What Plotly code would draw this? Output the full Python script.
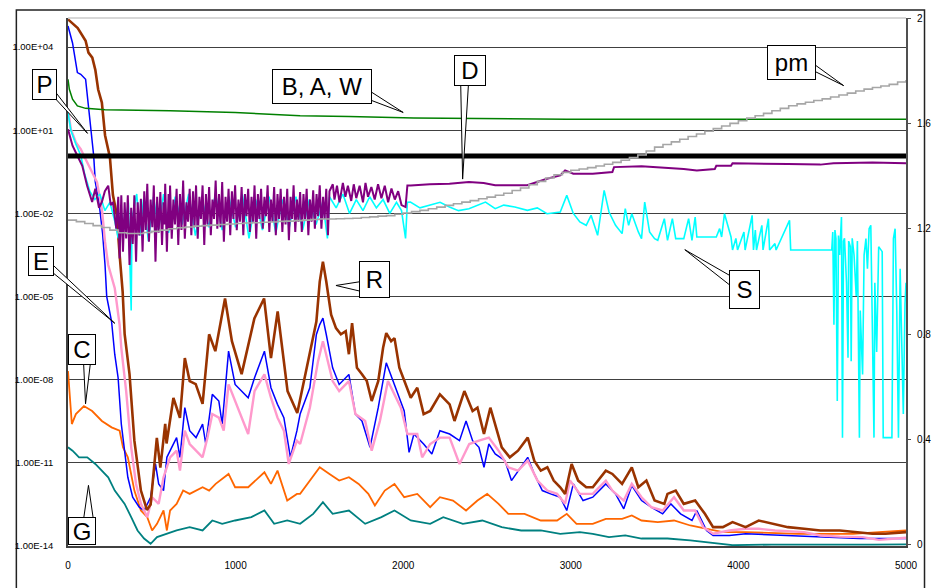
import numpy as np
import plotly.graph_objects as go

# ---------------- data (x, log10 value) ----------------
R_pts = [(0,5.0),(27,4.85),(58,4.69),(105,4.23),(122,3.80),(145,3.62),(163,3.18),(180,2.47),(202,2.0),(221,0.82),
 (250,0.03),(268,-1.34),(291,-2.05),(308,-3.49),(326,-4.82),(338,-6.36),(367,-7.80),(396,-10.2),(435,-12.0),(471,-12.7),
 (493,-12.5),(530,-10.1),(551,-11.17),(580,-9.59),(588,-10.3),(629,-8.66),(668,-9.38),(697,-7.22),(726,-8.05),(762,-8.16),
 (803,-8.87),(842,-6.36),(879,-6.97),(937,-5.07),(978,-6.61),(1036,-7.80),(1112,-5.79),(1170,-5.07),(1211,-7.22),(1251,-5.54),
 (1310,-8.41),(1368,-9.2),(1424,-7.57),(1453,-6.85),(1482,-5.90),(1502,-4.46),(1521,-3.74),(1541,-4.46),(1570,-5.65),(1599,-6.14),
 (1628,-6.36),(1657,-6.25),(1676,-7.08),(1695,-5.96),(1724,-7.57),(1754,-7.80),(1783,-8.05),(1812,-8.77),(1851,-8.05),(1880,-6.85),
 (1899,-6.32),(1928,-6.61),(1948,-6.50),(1977,-7.57),(2006,-8.05),(2045,-8.65),(2084,-8.29),(2122,-9.24),(2161,-9.13),(2219,-8.53),
 (2277,-8.89),(2306,-9.49),(2365,-8.41),(2414,-9.13),(2443,-9.01),(2482,-9.96),(2520,-9.01),(2549,-9.60),(2588,-10.44),(2636,-10.80),
 (2685,-10.56),(2743,-10.09),(2782,-10.92),(2821,-11.28),(2860,-11.16),(2898,-11.64),(2937,-11.88),(2966,-12.12),(3005,-11.04),(3044,-11.64),
 (3092,-11.88),(3131,-11.88),(3209,-11.28),(3248,-11.40),(3306,-11.76),(3364,-11.16),(3403,-11.88),(3451,-11.64),(3500,-12.36),(3558,-12.48),
 (3577,-12.12),(3626,-12.0),(3674,-12.48),(3742,-12.36),(3800,-12.84),(3849,-13.32),(3907,-13.32),(3965,-13.14),(4043,-13.32),(4121,-13.08),
 (4218,-13.20),(4295,-13.32),(4392,-13.38),(4489,-13.44),(4605,-13.44),(4722,-13.5),(4800,-13.56),(4877,-13.56),(5000,-13.5)]

E_pts = [(0,4.76),(27,4.15),(56,3.08),(76,3.02),(105,2.84),(115,2.24),(124,1.64),(134,1.04),(153,0.10),(163,-0.87),
 (185,-1.6),(206,-2.7),(221,-3.86),(231,-5.0),(260,-5.9),(279,-7.09),(299,-7.93),(318,-9.60),(357,-11.52),(386,-12.24),
 (425,-12.60),(454,-12.72),(493,-12.24),(522,-11.04),(541,-11.76),(570,-12.0),(590,-10.80),(619,-10.44),(648,-10.09),(668,-10.80),
 (697,-9.01),(726,-9.84),(764,-10.09),(803,-9.60),(822,-10.32),(861,-8.53),(900,-8.77),(920,-9.60),(958,-6.97),(997,-8.17),
 (1036,-8.41),(1075,-8.65),(1113,-7.93),(1172,-6.97),(1211,-8.29),(1250,-8.89),(1288,-9.37),(1327,-10.80),(1366,-9.84),(1385,-9.24),
 (1443,-8.29),(1482,-6.37),(1502,-6.01),(1521,-5.78),(1541,-6.37),(1579,-7.57),(1618,-8.17),(1676,-7.81),(1715,-9.24),(1754,-9.49),
 (1802,-10.44),(1851,-9.01),(1899,-7.39),(1938,-8.05),(1967,-8.53),(2006,-9.13),(2035,-10.62),(2064,-9.96),(2122,-10.32),(2171,-10.68),
 (2219,-9.84),(2277,-9.96),(2336,-10.20),(2375,-9.49),(2414,-10.20),(2452,-10.44),(2482,-11.16),(2511,-10.32),(2549,-10.68),(2607,-10.92),
 (2646,-11.64),(2704,-11.16),(2743,-10.80),(2782,-11.40),(2830,-12.0),(2879,-12.12),(2937,-12.24),(2976,-12.72),(3015,-11.76),(3073,-12.36),
 (3131,-12.24),(3209,-11.76),(3267,-12.12),(3316,-12.66),(3364,-11.82),(3422,-12.36),(3480,-12.60),(3548,-12.84),(3597,-12.48),(3655,-12.84),
 (3723,-13.08),(3752,-12.72),(3810,-13.44),(3849,-13.62),(3946,-13.62),(4043,-13.56),(4121,-13.58),(4256,-13.62),(4373,-13.66),(4489,-13.68),
 (4605,-13.7),(4722,-13.73),(4838,-13.73),(5000,-13.73)]

P_pts = [(0,1.76),(17,1.04),(47,0.56),(76,0.32),(95,0.08),(115,-0.16),(144,-0.52),(173,-0.87),(202,-1.83),(221,-3.03),
 (240,-3.86),(279,-4.7),(308,-6.02),(318,-6.85),(347,-8.41),(377,-10.44),(406,-11.76),(435,-12.48),(473,-12.96),(502,-12.24),
 (541,-12.48),(570,-11.52),(609,-10.80),(648,-10.56),(668,-11.28),(697,-9.84),(726,-10.32),(764,-10.56),(803,-10.80),(832,-10.09),
 (861,-9.24),(900,-9.37),(929,-9.84),(958,-8.17),(997,-8.77),(1036,-9.37),(1075,-9.96),(1113,-8.41),(1172,-7.81),(1211,-8.65),
 (1250,-9.37),(1288,-9.84),(1317,-11.04),(1366,-10.20),(1385,-10.32),(1443,-9.01),(1492,-7.33),(1521,-6.61),(1551,-7.33),(1579,-8.05),
 (1618,-8.41),(1676,-8.05),(1715,-9.24),(1773,-9.49),(1812,-10.56),(1861,-9.49),(1909,-8.05),(1948,-8.53),(1986,-9.01),(2025,-9.96),
 (2084,-9.96),(2113,-10.80),(2161,-10.32),(2219,-10.09),(2277,-10.09),(2336,-11.04),(2394,-10.32),(2452,-10.20),(2511,-10.09),(2569,-10.56),
 (2627,-11.16),(2685,-11.28),(2743,-10.92),(2801,-11.64),(2860,-12.0),(2918,-12.12),(2966,-12.48),(2995,-11.64),(3054,-12.12),(3131,-12.12),
 (3209,-11.64),(3248,-12.0),(3316,-12.36),(3364,-11.76),(3422,-12.24),(3480,-12.60),(3548,-12.72),(3616,-12.24),(3674,-12.72),(3742,-12.72),
 (3791,-13.32),(3849,-13.56),(3946,-13.44),(4043,-13.38),(4121,-13.38),(4218,-13.44),(4392,-13.50),(4489,-13.62),(4605,-13.66),(4741,-13.68),
 (4838,-13.78),(5000,-13.7)]

C_pts = [(0,-7.69),(8,-8.41),(23,-9.6),(47,-9.24),(95,-8.95),(144,-9.13),(202,-9.49),(260,-9.72),(308,-9.84),(328,-10.44),
 (357,-10.80),(396,-12.0),(435,-12.72),(473,-12.96),(502,-13.44),(531,-13.2),(570,-12.72),(590,-13.44),(609,-12.72),(648,-12.48),
 (687,-12.0),(726,-12.12),(803,-11.88),(842,-12.0),(881,-11.76),(958,-11.40),(997,-11.88),(1075,-11.88),(1172,-11.34),(1211,-11.76),
 (1250,-11.28),(1308,-12.36),(1366,-12.12),(1385,-12.12),(1443,-11.64),(1502,-11.16),(1560,-11.40),(1618,-11.64),(1676,-11.52),(1734,-11.76),
 (1792,-12.12),(1831,-12.54),(1890,-12.0),(1948,-11.76),(2006,-12.24),(2084,-12.12),(2161,-12.60),(2219,-12.24),(2297,-12.36),(2375,-12.72),
 (2443,-12.36),(2501,-12.12),(2569,-12.48),(2627,-12.84),(2724,-12.84),(2821,-13.08),(2918,-13.08),(2976,-12.84),(3034,-13.20),(3131,-13.20),
 (3209,-13.02),(3306,-13.02),(3364,-12.90),(3422,-13.08),(3519,-13.14),(3616,-13.08),(3713,-13.26),(3810,-13.38),(3907,-13.50),(4043,-13.50),
 (4198,-13.54),(4354,-13.56),(4528,-13.56),(4683,-13.56),(4838,-13.50),(5000,-13.44)]

G_pts = [(0,-10.44),(27,-10.56),(66,-10.80),(115,-10.80),(163,-11.04),(202,-11.28),(240,-11.52),(279,-12.0),(338,-12.48),(377,-12.96),
 (415,-13.44),(454,-13.73),(493,-13.92),(531,-13.68),(590,-13.56),(648,-13.44),(726,-13.32),(803,-13.44),(861,-13.08),(920,-13.20),
 (997,-13.08),(1094,-12.96),(1172,-12.72),(1230,-13.20),(1308,-13.08),(1385,-13.2),(1463,-12.84),(1521,-12.42),(1579,-12.84),(1676,-12.72),
 (1773,-13.20),(1870,-12.96),(1948,-12.72),(2045,-13.08),(2161,-13.20),(2239,-12.96),(2356,-13.20),(2472,-13.08),(2588,-13.32),(2704,-13.44),
 (2821,-13.44),(2937,-13.56),(3054,-13.50),(3131,-13.56),(3228,-13.68),(3325,-13.62),(3422,-13.73),(3577,-13.73),(3713,-13.80),(3868,-13.92),
 (3965,-13.97),(4200,-13.95),(4500,-13.96),(4800,-13.95),(5000,-13.94)]

D_pts = [(0,1.04),(27,0.44),(56,0.08),(85,-0.28),(114,-1.0),(144,-1.59),(163,-1.11),(185,-1.8),(202,-1.59),(220,-1.2),
 (240,-1.0),(255,-1.7),(268,-1.59),(288,-2.55),(300,-1.4),(308,-3.63),(318,-1.35),
 (328,-3.38),(338,-1.6),(347,-2.9),(357,-1.35),(367,-3.86),(377,-1.8),(386,-3.1),(396,-1.35),(406,-3.74),(416,-1.6),
 (425,-2.8),(435,-1.47),(445,-3.38),(455,-1.2),(464,-2.6),(473,-0.93),(483,-3.02),(493,-1.5),(503,-2.5),(512,-0.99),
 (522,-3.74),(532,-1.4),(541,-2.7),(551,-1.23),(561,-3.14),(570,-1.6),(575,-2.4),(580,-0.93),(590,-3.38),(600,-1.3),
 (605,-2.6),(609,-0.99),(619,-2.91),(629,-1.5),(638,-2.4),(648,-1.11),(658,-3.14),(668,-1.3),(677,-2.6),(687,-0.81),
 (697,-2.91),(707,-1.6),(716,-2.3),(726,-1.11),(736,-2.79),(746,-1.2),(755,-2.5),(764,-0.99),(774,-2.91),(784,-1.4),
 (793,-2.2),(803,-0.99),(813,-3.14),(823,-1.3),(832,-2.4),(842,-1.05),(852,-2.79),(862,-1.5),(871,-2.2),(881,-0.81),
 (891,-2.55),(901,-1.3),(910,-2.5),(920,-0.87),(930,-3.02),(940,-1.4),(949,-2.3),(958,-1.11),(968,-2.79),(978,-1.2),
 (987,-2.2),(997,-0.99),(1007,-2.61),(1017,-1.5),(1026,-2.3),(1036,-1.05),(1046,-2.79),(1056,-1.3),(1065,-2.1),(1075,-1.11),
 (1085,-2.67),(1095,-1.4),(1104,-2.3),(1113,-0.99),(1123,-2.91),(1133,-1.3),(1142,-2.2),(1152,-1.11),(1162,-2.55),(1172,-1.4),
 (1181,-2.1),(1191,-0.99),(1201,-2.67),(1211,-1.5),(1220,-2.3),(1230,-1.05),(1240,-2.79),(1250,-1.3),(1259,-2.2),(1269,-1.11),
 (1279,-2.67),(1289,-1.4),(1298,-2.4),(1308,-1.11),(1318,-2.97),(1328,-1.4),(1337,-2.2),(1346,-0.99),(1356,-2.67),(1366,-1.5),
 (1375,-2.3),(1385,-1.23),(1395,-2.67),(1405,-1.3),(1414,-2.2),(1424,-1.11),(1434,-2.79),(1444,-1.5),(1453,-2.3),(1463,-1.17),
 (1473,-2.55),(1483,-1.3),(1492,-2.1),(1502,-0.99),(1512,-2.55),(1522,-1.4),(1531,-2.2),(1541,-1.11),(1551,-2.79),(1560,-1.2),
 (1580,-0.95),(1590,-1.5),(1605,-1.0),(1620,-1.6),(1640,-0.9),(1655,-1.4),(1670,-1.0),(1690,-1.55),(1705,-0.95),(1720,-1.45),
 (1740,-1.0),(1760,-1.6),(1775,-0.9),(1790,-1.4),(1810,-1.05),(1830,-1.5),(1850,-0.95),(1870,-1.45),(1890,-1.0),(1910,-1.6),
 (1930,-1.1),(1950,-1.5),(1970,-1.2),(1990,-1.7),(2014,-1.77),(2025,-0.99),(2045,-0.99),(2159,-0.95),(2276,-0.93),(2392,-0.87),
 (2480,-0.9),(2549,-0.98),(2666,-0.98),(2740,-0.98),(2858,-0.75),(2937,-0.63),(2966,-0.45),(3015,-0.57),(3131,-0.57),(3248,-0.51),
 (3258,-0.33),(3422,-0.30),(3674,-0.40),(3752,-0.45),(3859,-0.40),(3868,-0.28),(3956,-0.28),(3965,-0.19),(4295,-0.22),(4489,-0.24),
 (4567,-0.19),(4800,-0.16),(5000,-0.19)]

S_pts = [(0,1.64),(17,1.0),(47,0.5),(76,0.1),(100,-0.6),(130,-1.2),(160,-1.5),(190,-1.3),(220,-1.9),(250,-1.6),
 (280,-2.3),(300,-2.9),(320,-2.0),(340,-2.6),(360,-1.6),(372,-4.5),(377,-5.5),(382,-2.2),(410,-1.3),(430,-2.8),
 (450,-1.5),(480,-3.0),(510,-1.4),(540,-2.6),(570,-1.3),(600,-2.7),(640,-1.4),(680,-2.4),(720,-1.3),(760,-2.8),
 (800,-1.5),(840,-2.5),(880,-1.3),(920,-2.6),(960,-1.4),(1000,-2.5),(1040,-1.3),(1080,-2.9),(1120,-1.5),(1160,-2.6),
 (1200,-1.4),(1240,-2.7),(1280,-1.5),(1320,-2.5),(1360,-1.4),(1400,-2.6),(1440,-1.5),(1480,-2.4),(1520,-1.6),(1548,-2.9),
 (1560,-1.4),(1600,-1.8),(1640,-1.3),(1680,-2.0),(1720,-1.5),(1760,-1.9),(1800,-1.4),(1840,-1.8),(1880,-1.5),(1920,-2.0),
 (1960,-1.6),(1990,-1.9),(2014,-2.9),(2025,-1.6),(2043,-1.59),(2100,-1.8),(2159,-1.71),(2220,-1.6),(2276,-1.77),(2330,-1.9),
 (2392,-1.83),(2491,-1.59),(2549,-1.83),(2600,-1.7),(2666,-1.77),(2741,-1.89),(2800,-1.8),(2858,-2.01),(2937,-1.95),(2976,-1.35),
 (3015,-2.0),(3054,-2.31),(3092,-2.43),(3121,-2.07),(3160,-2.79),(3199,-1.17),(3228,-1.95),(3267,-2.43),(3306,-2.73),(3325,-1.83),
 (3345,-2.43),(3364,-2.01),(3403,-2.67),(3422,-2.91),(3441,-1.59),(3470,-2.67),(3500,-2.91),(3519,-2.97),(3558,-2.19),(3577,-2.97),
 (3606,-2.19),(3626,-2.91),(3674,-2.91),(3703,-2.19),(3723,-2.97),(3742,-2.13),(3752,-2.85),(3868,-2.85),(3888,-2.55),(3900,-2.85),
 (3917,-2.01),(3956,-2.85),(3965,-3.32),(3985,-2.9),(3995,-3.32),(4033,-2.67),(4040,-3.32),(4082,-2.07),(4090,-3.32),(4101,-2.6),
 (4108,-3.32),(4140,-2.43),(4147,-3.32),(4179,-2.19),(4186,-3.32),(4218,-3.09),(4225,-3.32),(4305,-2.25),(4312,-3.32),(4557,-3.32),
 (4563,-2.67),(4570,-6.02),(4576,-2.6),(4582,-2.91),(4590,-8.77),(4597,-2.8),(4604,-3.5),(4615,-2.13),(4621,-10.09),(4627,-3.0),
 (4633,-2.9),(4645,-4.5),(4654,-7.21),(4658,-3.0),(4668,-3.2),(4673,-7.33),(4679,-2.9),(4690,-3.5),(4703,-4.98),(4710,-3.0),
 (4722,-10.09),(4727,-5.5),(4741,-7.81),(4750,-3.5),(4761,-2.91),(4770,-4.0),(4780,-2.55),(4790,-2.43),(4799,-6.0),(4809,-10.09),
 (4814,-4.5),(4825,-7.0),(4837,-3.2),(4858,-3.38),(4864,-10.09),(4916,-10.09),(4925,-2.91),(4935,-2.55),(4945,-5.5),(4955,-10.09),
 (4965,-4.0),(4984,-9.24),(4994,-5.27),(5000,-4.5)]

# B, A, W (left axis, log10 values)
W_pts = [(0,2.84),(8,2.48),(27,2.12),(56,1.88),(105,1.79),(221,1.74),(609,1.70),(997,1.64),(1385,1.52),(1676,1.50),
 (2064,1.44),(2549,1.43),(2976,1.40),(5000,1.40)]

# pm (right axis, linear), stepped
pm_x = list(range(0, 5001, 50))
pm_y = [1.233,1.227,1.220,1.212,1.205,1.195,1.185,1.182,1.182,1.186,1.190,1.195,1.200,1.204,1.207,1.210,1.212,1.214,
        1.216,1.218,1.220,1.222,1.223,1.225,1.226,1.228,1.229,1.231,1.233,1.235,1.237,1.237,1.238,1.239,1.240,1.243,
        1.245,1.248,1.250,1.255,1.260,1.265,1.270,1.276,1.282,1.289,1.295,1.301,1.307,1.314,1.320,1.327,1.335,1.345,
        1.355,1.367,1.380,1.393,1.405,1.414,1.422,1.427,1.432,1.438,1.445,1.452,1.460,1.470,1.480,1.495,1.510,1.520,
        1.530,1.540,1.550,1.560,1.570,1.580,1.590,1.600,1.610,1.620,1.629,1.638,1.648,1.657,1.667,1.674,1.680,1.687,
        1.693,1.700,1.708,1.715,1.723,1.730,1.736,1.742,1.748,1.757,1.765]

# thick black reference line (left axis)
K_x = [0, 5000]
K_y = [1.17, 1.17]

left_tickvals = [1e-14, 1e-11, 1e-8, 1e-5, 1e-2, 1e1, 1e4]
left_ticktext = ["1.00E-14", "1.00E-11", "1.00E-08", "1.00E-05", "1.00E-02", "1.00E+01", "1.00E+04"]
right_tickvals = [0, 0.4, 0.8, 1.2, 1.6, 2]
right_ticktext = ["0", "0.4", "0.8", "1.2", "1.6", "2"]
x_tickvals = [0, 1000, 2000, 3000, 4000, 5000]


def split(pts):
    xs = [p[0] for p in pts]
    ys = [10.0 ** p[1] for p in pts]
    return xs, ys


fig = go.Figure()


def add(pts, color, width):
    xs, ys = split(pts)
    fig.add_trace(go.Scatter(x=xs, y=ys, mode="lines", line=dict(color=color, width=width),
                             showlegend=False, hoverinfo="skip"))


add(G_pts, "#008080", 1.8)
add(C_pts, "#ff6600", 1.8)
add(E_pts, "#0000ff", 1.5)
add(P_pts, "#ff99cc", 2.4)
add(R_pts, "#993300", 2.6)
add(S_pts, "#00ffff", 1.6)
add(D_pts, "#800080", 2.0)
fig.add_trace(go.Scatter(x=pm_x, y=pm_y, mode="lines", yaxis="y2", line=dict(color="#a6a6a6", width=1.6, shape="hv"),
                         showlegend=False, hoverinfo="skip"))
add(W_pts, "#008000", 1.5)
fig.add_trace(go.Scatter(x=K_x, y=K_y, mode="lines", line=dict(color="#000000", width=5),
                         showlegend=False, hoverinfo="skip"))

L, R, T, B = 62, 922, 15, 546
W, H = 943, 588


def pp(px, py):
    return (px - L) / (R - L), (B - py) / (B - T)


shapes = []
# top border of plot area (light gray)
shapes.append(dict(type="line", xref="paper", yref="paper", x0=0, x1=1, y0=1, y1=1,
                   line=dict(color="#b0b0b0", width=1.2), layer="above"))
# outer chart border
x0, y0 = pp(9, 7)
x1, y1 = pp(941, 600)
shapes.append(dict(type="rect", xref="paper", yref="paper", x0=x0, y0=y1, x1=x1, y1=y0,
                   line=dict(color="#222222", width=1.5), layer="below"))

callouts = [
    # text, box (l, t, r, b), wedge base1, base2, tip
    ("P", (25, 66, 50, 97), (48, 88), (48, 95), (82, 131)),
    ("B, A, W", (273, 66, 373, 101), (371, 88), (371, 97), (406, 110)),
    ("D", (459, 52, 491, 83), (465, 81), (473, 81), (467, 177)),
    ("pm", (780, 42, 829, 77), (827, 61), (827, 68), (858, 83)),
    ("E", (21, 244, 47, 274), (45, 262), (45, 270), (110, 322)),
    ("R", (361, 259, 392, 296), (363, 280), (363, 290), (337, 284)),
    ("S", (741, 269, 772, 308), (743, 275), (743, 285), (695, 248)),
    ("C", (62, 333, 90, 364), (78, 362), (85, 362), (80, 403)),
    ("G", (62, 517, 90, 545), (78, 519), (88, 519), (83, 485)),
]

annotations = []
for text, (bl, bt, br, bb), b1, b2, tip in callouts:
    a = pp(*b1); b = pp(*b2); c = pp(*tip)
    shapes.append(dict(type="path", xref="paper", yref="paper",
                       path=f"M {a[0]},{a[1]} L {c[0]},{c[1]} L {b[0]},{b[1]} Z",
                       fillcolor="white", line=dict(color="black", width=1), layer="above"))
    cx, cy = pp((bl + br) / 2, (bt + bb) / 2)
    annotations.append(dict(text=text, xref="paper", yref="paper", x=cx, y=cy, xanchor="center", yanchor="middle",
                            showarrow=False, bgcolor="white", bordercolor="black", borderwidth=1, borderpad=0,
                            width=br - bl - 2, height=bb - bt - 2, align="center", valign="middle",
                            font=dict(family="Arial, Liberation Sans, sans-serif", size=24, color="black")))

fig.update_layout(
    width=W, height=H,
    margin=dict(l=L, r=W - R, t=T, b=H - B, pad=0),
    paper_bgcolor="white", plot_bgcolor="white",
    font=dict(family="Arial, Liberation Sans, sans-serif", color="black"),
    xaxis=dict(range=[0, 5000], tickvals=x_tickvals, showgrid=False, zeroline=False,
               showline=True, linecolor="#404040", linewidth=1.5, ticks="", ticklabelstandoff=9,
               tickfont=dict(size=10)),
    yaxis=dict(type="log", range=[-14, 5.05], tickvals=left_tickvals, ticktext=left_ticktext,
               showgrid=True, gridcolor="#404040", gridwidth=1, zeroline=False,
               showline=True, linecolor="#404040", linewidth=1.5, ticks="", ticklabelstandoff=11,
               tickfont=dict(size=9.5)),
    yaxis2=dict(range=[-0.004, 2.0], overlaying="y", side="right", tickvals=right_tickvals, ticktext=right_ticktext,
                showgrid=False, zeroline=False, showline=True, linecolor="#505050", linewidth=2,
                ticks="outside", ticklen=3, tickcolor="#505050", ticklabelstandoff=4,
                tickfont=dict(size=10)),
    shapes=shapes,
    annotations=annotations,
    showlegend=False,
)

fig.write_html("out.html")
